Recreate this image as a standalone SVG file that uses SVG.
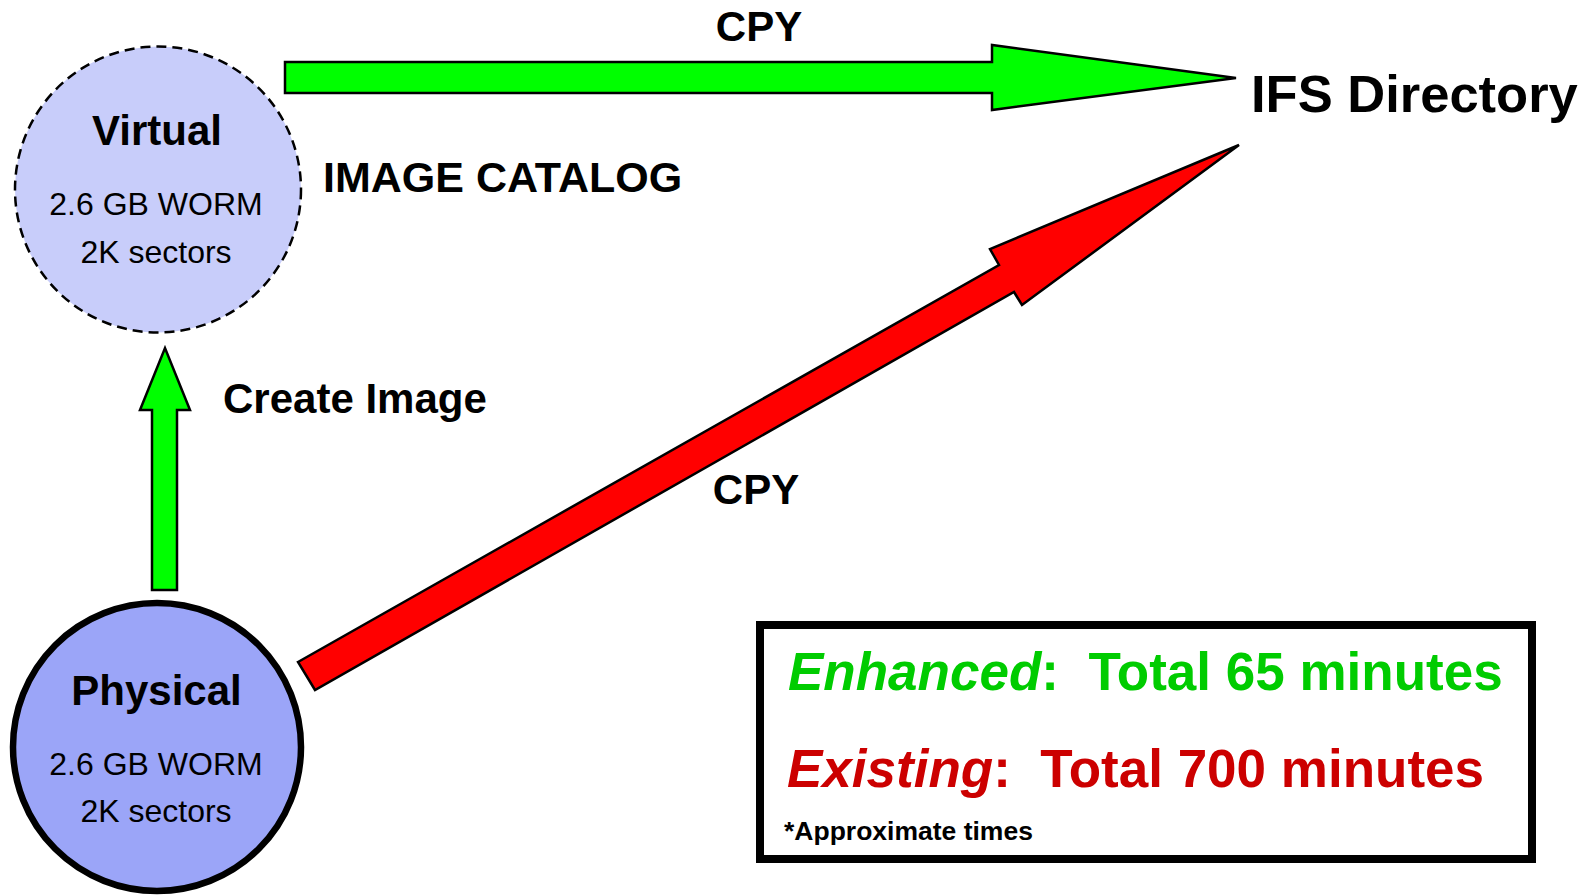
<svg xmlns="http://www.w3.org/2000/svg" width="1591" height="895" viewBox="0 0 1591 895">
<style>
text{font-family:"Liberation Sans",Arial,Helvetica,sans-serif;fill:#000}
.b{font-weight:bold}
.lbl{font-weight:bold;font-size:42px}
.sub{font-size:32px}
.node-title{font-weight:bold;font-size:42px}
.arrow{stroke:#000;stroke-width:2.5;stroke-linejoin:miter}
.green{fill:#00ff00}
.red{fill:#ff0000}
.leg{font-weight:bold;font-size:53px;white-space:pre}
</style>
<rect width="1591" height="895" fill="#fff"/>
<g id="connectors">
  <polygon id="cpy-top" class="arrow green" points="285,62 992,62 992,45 1236,78 992,110 992,93 285,93"/>
  <polygon id="create-image" class="arrow green" points="152,590 177,590 177,410 190,410 165,348 140,410 152,410"/>
  <polygon id="cpy-red" class="arrow red" points="298,662 999,265 990,249 1239,145 1022,305 1014,292 315,690"/>
  <text class="lbl" x="759" y="41" text-anchor="middle">CPY</text>
  <text class="lbl" x="756" y="504" text-anchor="middle">CPY</text>
  <text class="lbl" x="223" y="413">Create Image</text>
</g>
<g id="virtual">
  <circle cx="158" cy="189.5" r="143" fill="#c8cdfa" stroke="#000" stroke-width="2.5" stroke-dasharray="10,6"/>
  <text class="node-title" x="157" y="145" text-anchor="middle">Virtual</text>
  <text class="sub" x="156" y="215" text-anchor="middle">2.6 GB WORM</text>
  <text class="sub" x="156" y="262.5" text-anchor="middle">2K sectors</text>
</g>
<g id="image-catalog">
  <text class="b" x="323" y="192" font-size="43">IMAGE CATALOG</text>
</g>
<g id="physical">
  <circle cx="157" cy="747" r="144" fill="#9ba5f8" stroke="#000" stroke-width="6.5"/>
  <text class="node-title" x="156.5" y="705" text-anchor="middle">Physical</text>
  <text class="sub" x="156" y="775" text-anchor="middle">2.6 GB WORM</text>
  <text class="sub" x="156" y="822" text-anchor="middle">2K sectors</text>
</g>
<g id="ifs-directory">
  <text class="b" x="1251" y="112" font-size="52.5">IFS Directory</text>
</g>
<g id="legend">
  <rect x="760" y="625" width="772" height="234" fill="#fff" stroke="#000" stroke-width="8"/>
  <text class="leg" x="788" y="690" style="fill:#00cc00"><tspan font-style="italic">Enhanced</tspan>:  Total 65 minutes</text>
  <text class="leg" x="787" y="787" style="fill:#cc0000"><tspan font-style="italic">Existing</tspan>:  Total 700 minutes</text>
  <text class="b" x="784" y="840" font-size="26.5">*Approximate times</text>
</g>
</svg>
